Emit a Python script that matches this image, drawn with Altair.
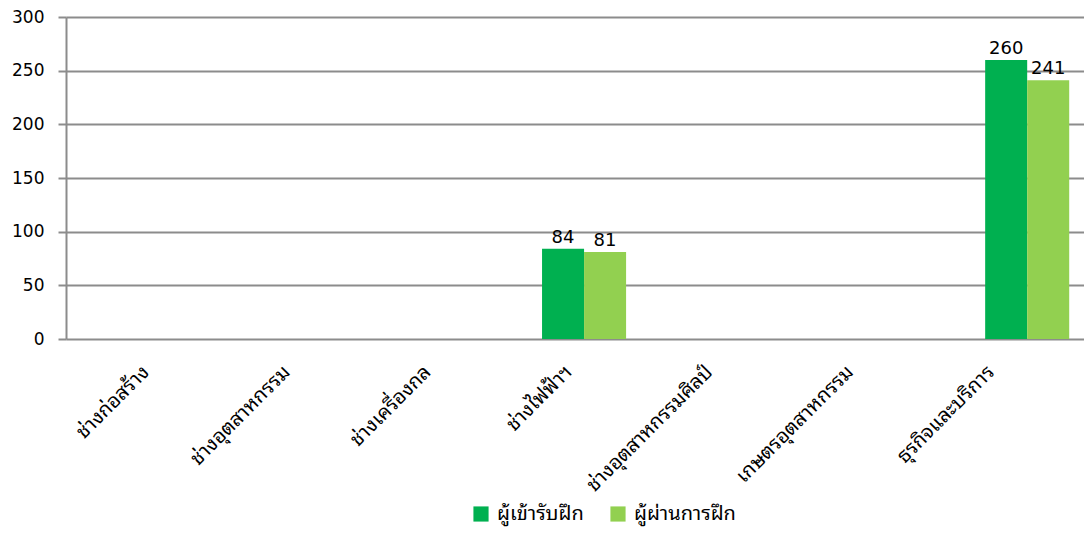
import altair as alt
import pandas as pd

categories = ["ช่างก่อสร้าง", "ช่างอุตสาหกรรม", "ช่างเครื่องกล", "ช่างไฟฟ้าฯ",
              "ช่างอุตสาหกรรมศิลป์", "เกษตรอุตสาหกรรม", "ธุรกิจและบริการ"]
series = ["ผู้เข้ารับฝึก", "ผู้ผ่านการฝึก"]
trainees = [0, 0, 0, 84, 0, 0, 260]
passed = [0, 0, 0, 81, 0, 0, 241]
colors = ["#00B050", "#92D050"]

rows = []
for c, a, b in zip(categories, trainees, passed):
    rows.append({"cat": c, "series": series[0], "value": a})
    rows.append({"cat": c, "series": series[1], "value": b})
df = pd.DataFrame(rows)
cats_df = pd.DataFrame({"cat": categories})

FONT = "Tahoma, 'Noto Sans Thai Looped', 'Noto Looped Thai', 'Noto Sans Thai', 'Noto Sans Thai UI', Loma, Garuda, 'DejaVu Sans', sans-serif"
NUMFONT = "Tahoma, 'DejaVu Sans', sans-serif"

x = alt.X("cat:N", sort=categories, title=None,
          scale=alt.Scale(paddingInner=0.431, paddingOuter=0.1615, align=0.69),
          axis=alt.Axis(labels=False, ticks=False, domain=False, grid=False))
xo = alt.XOffset("series:N", sort=series, scale=alt.Scale(paddingInner=0, paddingOuter=0))
y = alt.Y("value:Q", title=None,
          scale=alt.Scale(domain=[0, 300], nice=False),
          axis=alt.Axis(values=[0, 50, 100, 150, 200, 250, 300], tickSize=8,
                        tickColor="#8c8c8c", tickWidth=2, gridColor="#8c8c8c",
                        gridWidth=2, domainColor="#8c8c8c", domainWidth=2,
                        labelFontSize=17, labelFont=NUMFONT, labelColor="#000",
                        labelPadding=14))
color = alt.Color("series:N", sort=series, title=None,
                  scale=alt.Scale(domain=series, range=colors),
                  legend=alt.Legend(orient="none", legendX=405, legendY=487,
                                    direction="horizontal", symbolType="square",
                                    symbolSize=230, symbolStrokeWidth=0,
                                    labelFontSize=20, labelFont=FONT,
                                    labelColor="#000", columnPadding=24,
                                    labelOffset=6))

bars = alt.Chart(df).mark_bar(opacity=1).encode(x=x, xOffset=xo, y=y, color=color)
texts = alt.Chart(df).transform_filter("datum.value > 0").mark_text(
    baseline="bottom", dy=-2, fontSize=18, font=NUMFONT, color="#000"
).encode(x=x, xOffset=xo, y=y, text="value:Q")

# category labels, rotated, on their own point scale
cat_labels = alt.Chart(cats_df).mark_text(
    angle=315, align="right", baseline="top", fontSize=20, font=FONT, color="#000"
).encode(
    x=alt.X("cat:N", sort=categories, title=None,
            scale=alt.Scale(type="point", range=[73, 918], padding=0), axis=None),
    y=alt.value(345),
    text="cat:N",
)

chart = alt.layer(alt.layer(bars, texts), cat_labels).resolve_scale(
    x="independent"
).properties(
    width=1018, height=322,
    autosize=alt.AutoSizeParams(type="none"),
    padding={"left": 58, "top": 9, "right": 0, "bottom": 190},
).configure_view(stroke=None)

chart.save("out.html", embed_options={"renderer": "svg", "actions": False})
